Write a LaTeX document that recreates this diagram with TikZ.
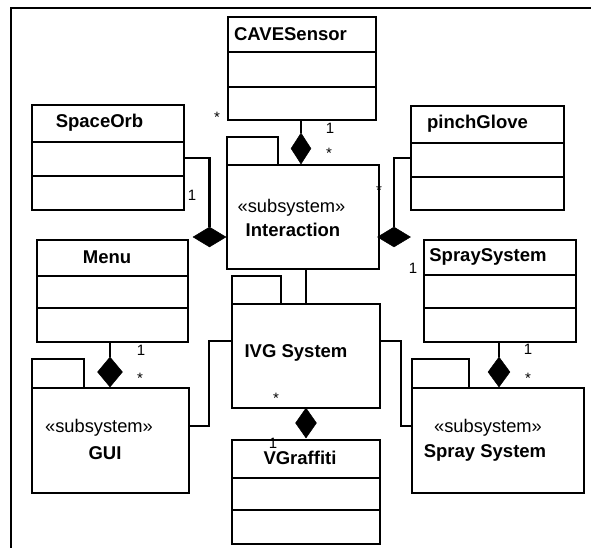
\documentclass[tikz,border=0pt]{standalone}
\usepackage{fontspec}
\setmainfont{Liberation Sans}
\usetikzlibrary{shapes.geometric}
\begin{document}
\begin{tikzpicture}[x=1pt,y=-1pt,
  box/.style={draw, line width=2.4pt, rectangle, anchor=north west, inner sep=0pt},
  sep/.style={line width=2.4pt},
  conn/.style={line width=2.1pt},
  dia/.style={diamond, fill=black, draw=black, line width=0.5pt, inner sep=0pt},
  title/.style={font=\fontsize{18.5}{22}\selectfont\bfseries, inner sep=0pt},
  stereo/.style={font=\fontsize{18.3}{22}\selectfont, inner sep=0pt},
  mult/.style={font=\fontsize{15}{17}\selectfont, inner sep=0pt}]
\useasboundingbox (0,0) rectangle (591,547);
% frame
\draw[line width=2.4pt] (592,8) -- (11,8) -- (11,548);

% CAVESensor
\node[box, minimum width=148pt, minimum height=103pt] (cave) at (227,16) {};
\draw[sep] (cave.west |- 0,52) -- (cave.east |- 0,52);
\draw[sep] (cave.west |- 0,87) -- (cave.east |- 0,87);
\node[title] (caveT) at (290.5,34) {CAVESensor};

% SpaceOrb
\node[box, minimum width=152pt, minimum height=105pt] (orb) at (31,104) {};
\draw[sep] (orb.west |- 0,142) -- (orb.east |- 0,142);
\draw[sep] (orb.west |- 0,176) -- (orb.east |- 0,176);
\node[title] (orbT) at (99.5,123) {SpaceOrb};

% pinchGlove
\node[box, minimum width=153pt, minimum height=104pt] (pinch) at (410,105) {};
\draw[sep] (pinch.west |- 0,143) -- (pinch.east |- 0,143);
\draw[sep] (pinch.west |- 0,177) -- (pinch.east |- 0,177);
\node[title] (pinchT) at (477.5,124) {pinchGlove};

% Interaction package
\node[box, minimum width=152pt, minimum height=104pt] (inter) at (226,164) {};
\node[box, minimum width=51pt, minimum height=28pt] (interTab) at (226,136) {};
\node[stereo] (interS) at (291.5,208) {«subsystem»};
\node[title] (interT) at (293,230) {Interaction};

% Menu
\node[box, minimum width=151pt, minimum height=102pt] (menu) at (36,239) {};
\draw[sep] (menu.west |- 0,276) -- (menu.east |- 0,276);
\draw[sep] (menu.west |- 0,308) -- (menu.east |- 0,308);
\node[title] (menuT) at (107,257) {Menu};

% SpraySystem class
\node[box, minimum width=152pt, minimum height=102pt] (spray) at (423,239) {};
\draw[sep] (spray.west |- 0,275) -- (spray.east |- 0,275);
\draw[sep] (spray.west |- 0,308) -- (spray.east |- 0,308);
\node[title] (sprayT) at (488,257) {SpraySystem};

% IVG System package
\node[box, minimum width=148pt, minimum height=104pt] (ivg) at (231,303) {};
\node[box, minimum width=49pt, minimum height=28pt] (ivgTab) at (231,275) {};
\node[title] (ivgT) at (296,353) {IVG System};

% GUI package
\node[box, minimum width=157pt, minimum height=105pt] (gui) at (31,387) {};
\node[box, minimum width=52pt, minimum height=29pt] (guiTab) at (31,358) {};
\node[stereo] (guiS) at (99,428) {«subsystem»};
\node[title] (guiT) at (105,453) {GUI};

% Spray System package
\node[box, minimum width=172pt, minimum height=105pt] (spkg) at (411,387) {};
\node[box, minimum width=57pt, minimum height=29pt] (spkgTab) at (411,358) {};
\node[stereo] (spkgS) at (488,428) {«subsystem»};
\node[title] (spkgT) at (485,453) {Spray System};

% VGraffiti
\node[box, minimum width=148pt, minimum height=104pt] (vg) at (231,439) {};
\draw[sep] (vg.west |- 0,478) -- (vg.east |- 0,478);
\draw[sep] (vg.west |- 0,510) -- (vg.east |- 0,510);
\node[title] (vgT) at (300,458) {VGraffiti};

% diamonds
\node[dia, minimum width=33pt, minimum height=20pt] (d1) at (209.5,237) {};
\node[dia, minimum width=20pt, minimum height=31pt] (d2) at (301,148.5) {};
\node[dia, minimum width=33pt, minimum height=20pt] (d3) at (394,237) {};
\node[dia, minimum width=25pt, minimum height=30pt] (d4) at (110,372) {};
\node[dia, minimum width=21pt, minimum height=30pt] (d5) at (306,423) {};
\node[dia, minimum width=22pt, minimum height=30pt] (d6) at (499,372) {};

% connectors
\draw[conn] (orb.east) -| (d1.north);
\draw[conn] (cave.south -| d2) -- (d2.north);
\draw[conn] (pinch.west) -| (d3.north);
\draw[conn] (menu.south -| d4) -- (d4.north);
\draw[conn] (ivg.south -| d5) -- (d5.north);
\draw[conn] (spray.south -| d6) -- (d6.north);
\draw[conn] (inter.south -| ivg.north) -- (ivg.north);
\draw[conn] ([yshift=14.5pt]gui.east) -- ++(19,0) |- ([yshift=15pt]ivg.west);
\draw[conn] ([yshift=15pt]ivg.east) -- ++(20,0) |- ([yshift=14.5pt]spkg.west);

% multiplicities
\node[mult] (m1) at (217,117) {*};
\node[mult] (m2) at (330,128) {1};
\node[mult] (m3) at (329,153) {*};
\node[mult] (m4) at (192,195) {1};
\node[mult] (m5) at (379,190) {*};
\node[mult] (m6) at (413,268) {1};
\node[mult] (m7) at (141,350) {1};
\node[mult] (m8) at (140,378) {*};
\node[mult] (m9) at (528,349) {1};
\node[mult] (m10) at (528,378) {*};
\node[mult] (m11) at (276,398) {*};
\node[mult] (m12) at (273,443) {1};
\end{tikzpicture}
\end{document}
